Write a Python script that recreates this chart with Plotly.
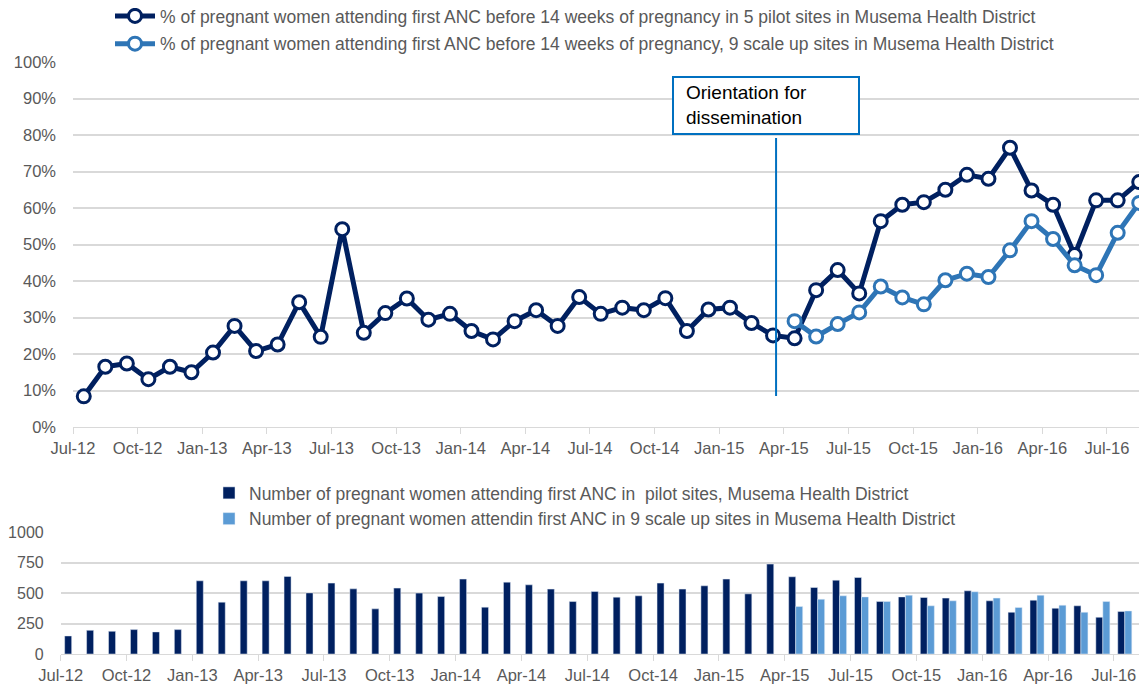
import plotly.graph_objects as go

# The page body adds an 8px margin, so the figure is drawn 8px smaller and
# all reference pixel positions are shifted by that offset.
OFF = 8
W, H = 1147 - OFF, 690 - OFF

months = ["Jul-12","Aug-12","Sep-12","Oct-12","Nov-12","Dec-12",
          "Jan-13","Feb-13","Mar-13","Apr-13","May-13","Jun-13","Jul-13","Aug-13","Sep-13","Oct-13","Nov-13","Dec-13",
          "Jan-14","Feb-14","Mar-14","Apr-14","May-14","Jun-14","Jul-14","Aug-14","Sep-14","Oct-14","Nov-14","Dec-14",
          "Jan-15","Feb-15","Mar-15","Apr-15","May-15","Jun-15","Jul-15","Aug-15","Sep-15","Oct-15","Nov-15","Dec-15",
          "Jan-16","Feb-16","Mar-16","Apr-16","May-16","Jun-16","Jul-16","Aug-16"]

pct_pilot = [8.4,16.5,17.4,13.1,16.5,15.0,20.4,27.7,20.8,22.6,34.2,24.7,54.2,25.8,31.2,35.2,29.4,31.0,
             26.3,24.0,29.0,32.0,27.7,35.6,31.0,32.7,32.0,35.3,26.3,32.2,32.7,28.5,25.1,24.3,37.5,43.0,
             36.6,56.4,60.9,61.6,65.0,69.1,68.0,76.5,64.8,60.9,47.1,62.1,62.1,67.1]

pct_scale = [None]*33 + [29.0,24.8,28.2,31.4,38.5,35.5,33.6,40.2,42.0,41.1,48.4,56.4,51.5,44.3,41.6,53.2,61.4]

n_pilot = [148,194,186,200,181,200,600,425,600,600,636,501,581,534,370,540,
           499,471,614,384,589,567,532,430,512,466,477,581,532,559,614,493,737,
           633,545,605,627,430,468,463,458,518,436,342,441,375,395,301,348,348]

n_scale = [None]*33 + [389,449,477,468,430,482,395,436,510,458,381,482,400,342,430,353,None]

tick_idx = list(range(0, 48 + 1, 3))
tick_labels = [months[i] for i in tick_idx]

name_l1 = "% of pregnant women attending first ANC before 14 weeks of pregnancy in 5 pilot sites in Musema Health District"
name_l2 = "% of pregnant women attending first ANC before 14 weeks of pregnancy, 9 scale up sites in Musema Health District"
name_b1 = "Number of pregnant women attending first ANC in  pilot sites, Musema Health District"
name_b2 = "Number of pregnant women attendin first ANC in 9 scale up sites in Musema Health District"

DARK = "#002060"
LIGHT_LINE = "#2E75B6"
LIGHT_BAR = "#5B9BD5"
TXT = "#595959"
GRID = "#D9D9D9"
FONT = "Liberation Sans"


def px(xp):
    return (xp - OFF) / W


def py(yp):
    return 1 - (yp - OFF) / H


x = [i + 0.5 for i in range(len(months))]

fig = go.Figure()
fig.add_trace(go.Scatter(x=x, y=[v/100 for v in pct_pilot], name=name_l1, mode="lines+markers",
                         line=dict(color=DARK, width=5),
                         marker=dict(symbol="circle", size=13, color="white", line=dict(color=DARK, width=3)),
                         xaxis="x", yaxis="y", legend="legend", legendgroup="a"))
fig.add_trace(go.Scatter(x=x, y=[None if v is None else v/100 for v in pct_scale], name=name_l2, mode="lines+markers",
                         line=dict(color=LIGHT_LINE, width=5),
                         marker=dict(symbol="circle", size=13, color="white", line=dict(color=LIGHT_LINE, width=3)),
                         xaxis="x", yaxis="y", legend="legend", legendgroup="b"))
fig.add_trace(go.Bar(x=x, y=n_pilot, name=name_b1, marker=dict(color=DARK),
                     xaxis="x2", yaxis="y2", legend="legend2"))
fig.add_trace(go.Bar(x=x, y=n_scale, name=name_b2, marker=dict(color=LIGHT_BAR),
                     xaxis="x2", yaxis="y2", legend="legend2"))

top_left, top_step = 73, 21.54
bot_left, bot_step = 60.7, 21.94
right_edge = 1147

axis_common = dict(tickmode="array", tickvals=tick_idx, ticktext=tick_labels, showgrid=False,
                   showline=True, linecolor=GRID, linewidth=1, ticks="outside", ticklen=6,
                   tickcolor=GRID, tickfont=dict(family=FONT, size=16.5, color=TXT), zeroline=False,
                   automargin=False)

fig.update_layout(
    width=W, height=H, margin=dict(l=0, r=0, t=0, b=0, autoexpand=False),
    paper_bgcolor="white", plot_bgcolor="white",
    barmode="group", bargap=0.36, bargroupgap=0,
    xaxis=dict(domain=[px(top_left), 1], range=[0, (right_edge-top_left)/top_step], anchor="y", **axis_common),
    yaxis=dict(domain=[py(427), py(62)], range=[0, 1.0], tickvals=[i/10 for i in range(11)],
               tickformat=".0%", showgrid=True, gridcolor=GRID, gridwidth=1.5, zeroline=False,
               tickfont=dict(family=FONT, size=16.5, color=TXT), anchor="x", ticklabelstandoff=16,
               automargin=False),
    xaxis2=dict(domain=[px(bot_left), 1], range=[0, (right_edge-bot_left)/bot_step], anchor="y2", **axis_common),
    yaxis2=dict(domain=[py(654), py(532)], range=[0, 1000], tickvals=[0,250,500,750,1000],
                showgrid=True, gridcolor=GRID, gridwidth=1.5, zeroline=False,
                tickfont=dict(family=FONT, size=16, color=TXT), anchor="x2", ticklabelstandoff=16,
                automargin=False),
    legend=dict(x=px(110), y=py(-2), xanchor="left", yanchor="top", orientation="v",
                font=dict(family=FONT, size=17.5, color=TXT), bgcolor="rgba(0,0,0,0)",
                tracegroupgap=2, itemwidth=40),
    legend2=dict(x=px(209), y=py(475), xanchor="left", yanchor="top", orientation="v",
                 font=dict(family=FONT, size=17.5, color=TXT), bgcolor="rgba(0,0,0,0)",
                 itemwidth=30),
    showlegend=True,
)

# Orientation marker: vertical line, framed box and its text
line_x = 32.64
fig.add_shape(type="line", xref="x", yref="paper", x0=line_x, x1=line_x, y0=py(396), y1=py(138),
              line=dict(color="#0070C0", width=2))
fig.add_shape(type="rect", xref="paper", yref="paper", x0=px(673), x1=px(859), y0=py(134), y1=py(77),
              line=dict(color="#0070C0", width=2), fillcolor="white", layer="above")
fig.add_annotation(xref="paper", yref="paper", x=px(684), y=py(105.5), xanchor="left", yanchor="middle",
                   text="Orientation for<br>dissemination", showarrow=False, align="left",
                   font=dict(family=FONT, size=19, color="black"))

fig.write_html("out.html")
